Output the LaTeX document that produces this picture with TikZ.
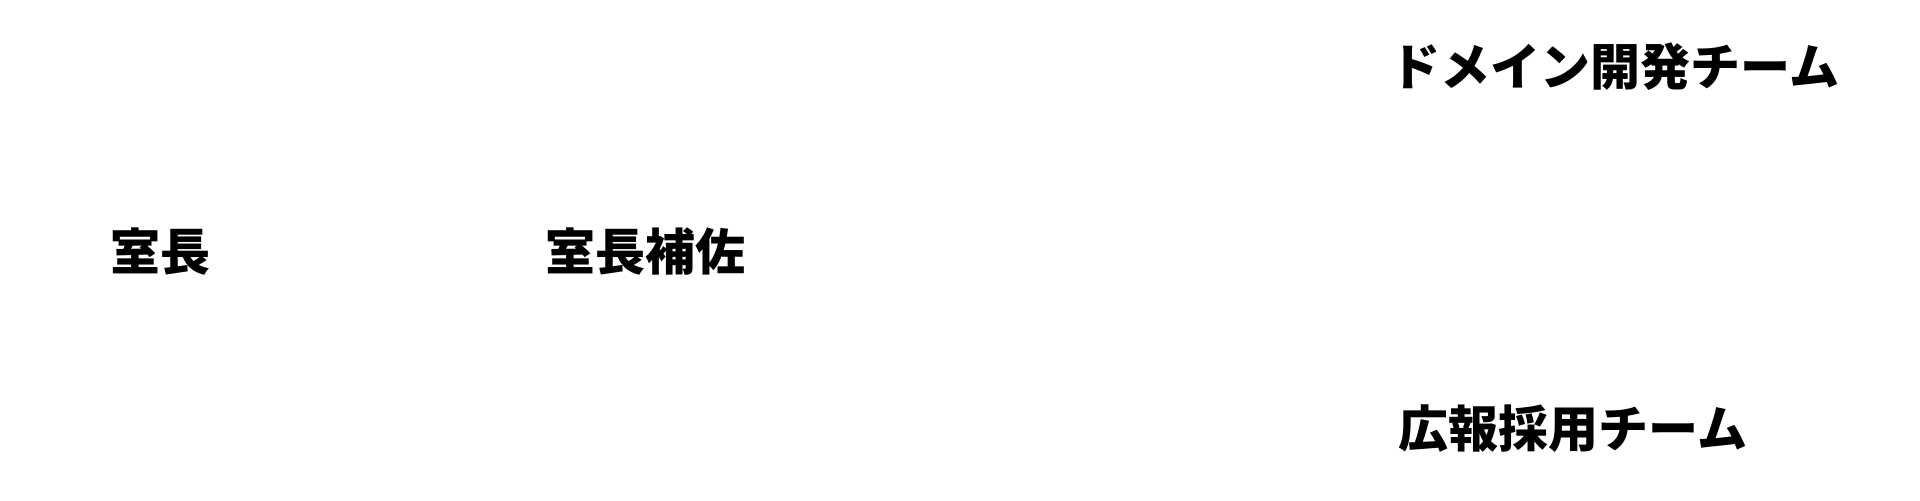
\documentclass[tikz,border=0pt]{standalone}
\usepackage{fontspec}
\setmainfont{Noto Sans CJK JP}
\begin{document}
\begin{tikzpicture}[x=1pt,y=1pt,
  lbl/.style={inner sep=0pt,font=\fontsize{25pt}{30pt}\selectfont\bfseries}]
\useasboundingbox[fill=white] (0,0) rectangle (960,250);
\node[lbl] (domain) at (807.5,216.5) {ドメイン開発チーム};
\node[lbl] (head) at (80,124) {室長};
\node[lbl] (assist) at (322.5,124) {室長補佐};
\node[lbl] (pr) at (786.5,35.5) {広報採用チーム};
\end{tikzpicture}
\end{document}
